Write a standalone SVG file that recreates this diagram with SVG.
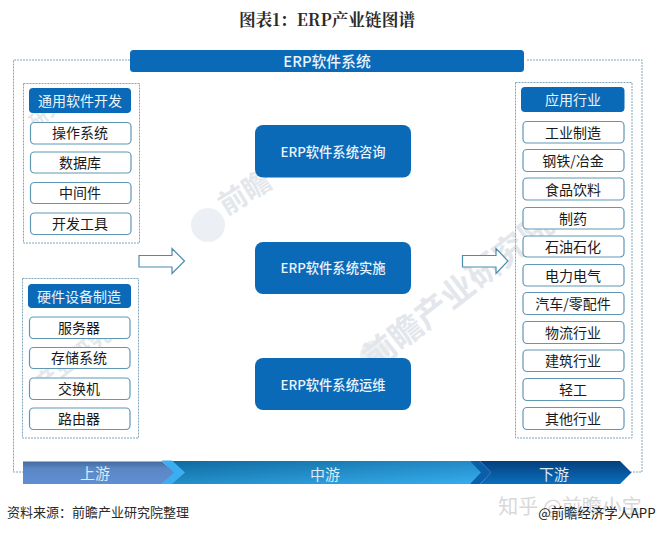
<svg xmlns="http://www.w3.org/2000/svg" width="656" height="533" viewBox="0 0 656 533">
<style>
text{font-family:"Noto Sans CJK SC","Liberation Sans",sans-serif;text-anchor:middle}
.p{fill:none;stroke:#7fa6bd;stroke-width:1;stroke-dasharray:2 1}
.h{fill:#0a6ab8}
.i{fill:#fff;stroke:#5f97b5;stroke-width:1.2}
.ti{font-size:14px;fill:#1a1a1a}
.th{font-size:14px;fill:#eaf4fb}
.tc{font-size:13.300px;fill:#e8f3fb;font-weight:500}
.w{fill:#e3e7ec;font-weight:700}
.a{fill:#fff;stroke:#4b8cad;stroke-width:1.2}
.b{font-size:15px;fill:#dbeaf6}
</style>
<defs>
<linearGradient id="g1" x1="0" y1="0" x2="0" y2="1"><stop offset="0" stop-color="#44699f"/><stop offset=".3" stop-color="#5a86c4"/><stop offset="1" stop-color="#5f8fd2"/></linearGradient>
<linearGradient id="g2" x1="0" y1="0" x2="1" y2="1"><stop offset="0" stop-color="#0e6a9e"/><stop offset="1" stop-color="#38aef0"/></linearGradient>
<linearGradient id="g3" x1="0" y1="0" x2="0" y2="1"><stop offset="0" stop-color="#053f7c"/><stop offset="1" stop-color="#0a6fbd"/></linearGradient>
</defs>
<rect width="656" height="533" fill="#fff"/>
<g id="watermarks">
<circle cx="208" cy="225" r="17" fill="#eceff3"/>
<circle cx="375" cy="355" r="15" fill="#eef1f4"/>
<text class="w" transform="translate(250 201) rotate(-32)" style="font-size:28px">前瞻</text>
<text class="w" transform="translate(465 300) rotate(-38)" style="font-size:33px">前瞻产业研究院</text>
<text class="w" transform="translate(78 365) rotate(-38)" style="font-size:22px">产业研究</text>
<text class="w" transform="translate(50 118) rotate(-38)" style="font-size:18px">研究</text>
</g>
<text x="327" y="26" style="font-family:'Noto Serif CJK SC','Noto Sans CJK SC',sans-serif;font-size:16.700px;font-weight:700;fill:#2a2a2a">图表1：ERP产业链图谱</text>
<g id="frame"><path class="p" d="M130 60H13.500V472H23M527 60H642V472H631"/></g>
<g id="top-bar"><rect class="h" x="130" y="50" width="394" height="22" rx="3.500"/><text class="tc" x="327" y="67" style="font-size:14.800px">ERP软件系统</text></g>
<g id="panel-software">
<rect class="p" x="23.500" y="83.500" width="116" height="159.500"/>
<rect class="h" x="29" y="88" width="102" height="25" rx="4"/><text class="th" x="80" y="106">通用软件开发</text>
<rect class="i" x="30.500" y="122.500" width="100.500" height="21.500" rx="4"/><text class="ti" x="80" y="138">操作系统</text>
<rect class="i" x="30.500" y="152" width="100.500" height="21" rx="4"/><text class="ti" x="80" y="168">数据库</text>
<rect class="i" x="30.500" y="182.500" width="100.500" height="21" rx="4"/><text class="ti" x="80" y="198">中间件</text>
<rect class="i" x="30.500" y="213" width="100.500" height="21.500" rx="4"/><text class="ti" x="80" y="229">开发工具</text>
</g>
<g id="panel-hardware">
<rect class="p" x="22.500" y="278.500" width="116" height="159.500"/>
<rect class="h" x="28" y="284" width="103" height="24" rx="4"/><text class="th" x="79" y="302">硬件设备制造</text>
<rect class="i" x="29.500" y="317" width="100.500" height="21.500" rx="4"/><text class="ti" x="79" y="333">服务器</text>
<rect class="i" x="29.500" y="347.500" width="100.500" height="21" rx="4"/><text class="ti" x="79" y="363">存储系统</text>
<rect class="i" x="29.500" y="378" width="100.500" height="21.500" rx="4"/><text class="ti" x="79" y="394">交换机</text>
<rect class="i" x="29.500" y="408" width="100.500" height="21.500" rx="4"/><text class="ti" x="79" y="424">路由器</text>
</g>
<g id="center-consult"><rect class="h" x="255" y="125" width="156" height="52.500" rx="8"/><text class="tc" x="333" y="157">ERP软件系统咨询</text></g>
<g id="center-impl"><rect class="h" x="255" y="242" width="156" height="52" rx="8"/><text class="tc" x="333" y="273">ERP软件系统实施</text></g>
<g id="center-ops"><rect class="h" x="255" y="358" width="156" height="52" rx="8"/><text class="tc" x="333" y="390">ERP软件系统运维</text></g>
<g id="connectors">
<path class="a" d="M139 255.500H172V248.500L184.500 261L172 273.500V267H139Z"/>
<path class="a" d="M462.500 255.500H496V248.500L508 261L496 273.500V267H462.500Z"/>
</g>
<g id="panel-apps">
<rect class="p" x="515.500" y="82.500" width="116.500" height="355.500"/>
<rect class="h" x="521" y="87" width="103.500" height="25" rx="4"/><text class="th" x="573" y="105">应用行业</text>
<rect class="i" x="523" y="121.500" width="101" height="21.500" rx="4"/><text class="ti" x="573" y="138">工业制造</text>
<rect class="i" x="523" y="149.500" width="101" height="22" rx="4"/><text class="ti" x="573" y="166">钢铁/冶金</text>
<rect class="i" x="523" y="178" width="101" height="22" rx="4"/><text class="ti" x="573" y="195">食品饮料</text>
<rect class="i" x="523" y="207.500" width="101" height="21.500" rx="4"/><text class="ti" x="573" y="224">制药</text>
<rect class="i" x="523" y="236" width="101" height="21" rx="4"/><text class="ti" x="573" y="252">石油石化</text>
<rect class="i" x="523" y="264.500" width="101" height="21.500" rx="4"/><text class="ti" x="573" y="281">电力电气</text>
<rect class="i" x="523" y="292.500" width="101" height="22" rx="4"/><text class="ti" x="573" y="309">汽车/零配件</text>
<rect class="i" x="523" y="321.500" width="101" height="22" rx="4"/><text class="ti" x="573" y="338">物流行业</text>
<rect class="i" x="523" y="350" width="101" height="21.500" rx="4"/><text class="ti" x="573" y="366">建筑行业</text>
<rect class="i" x="523" y="378.500" width="101" height="22" rx="4"/><text class="ti" x="573" y="395">轻工</text>
<rect class="i" x="523" y="407.500" width="101" height="22" rx="4"/><text class="ti" x="573" y="424">其他行业</text>
</g>
<g id="stages">
<path fill="url(#g2)" d="M162 461H470L490 472.500L470 484H162L175 472.500Z"/>
<path fill="url(#g1)" d="M23 461.500H162L175 472.500L162 484H23Z"/>
<path fill="#3aaef0" d="M162 460.500H172L185 472.500L172 484H162L174 472.500Z"/>
<path fill="#0b5ea8" d="M470 461H480L491 472.500L480 484H470L481 472.500Z"/>
<path fill="url(#g3)" d="M480 461H620L631.500 472.500L620 484H480L491 472.500Z"/>
<text class="b" x="95" y="479">上游</text>
<text class="b" x="325" y="480">中游</text>
<text class="b" x="554" y="480">下游</text>
</g>
<text x="98" y="517" style="font-size:13px;fill:#2a2a2a">资料来源：前瞻产业研究院整理</text>
<text x="570" y="514" style="font-size:20px;fill:#d8d8d8">知乎 @前瞻小宝</text>
<text x="597" y="518" style="font-size:13.300px;fill:#222">@前瞻经济学人APP</text>
</svg>
